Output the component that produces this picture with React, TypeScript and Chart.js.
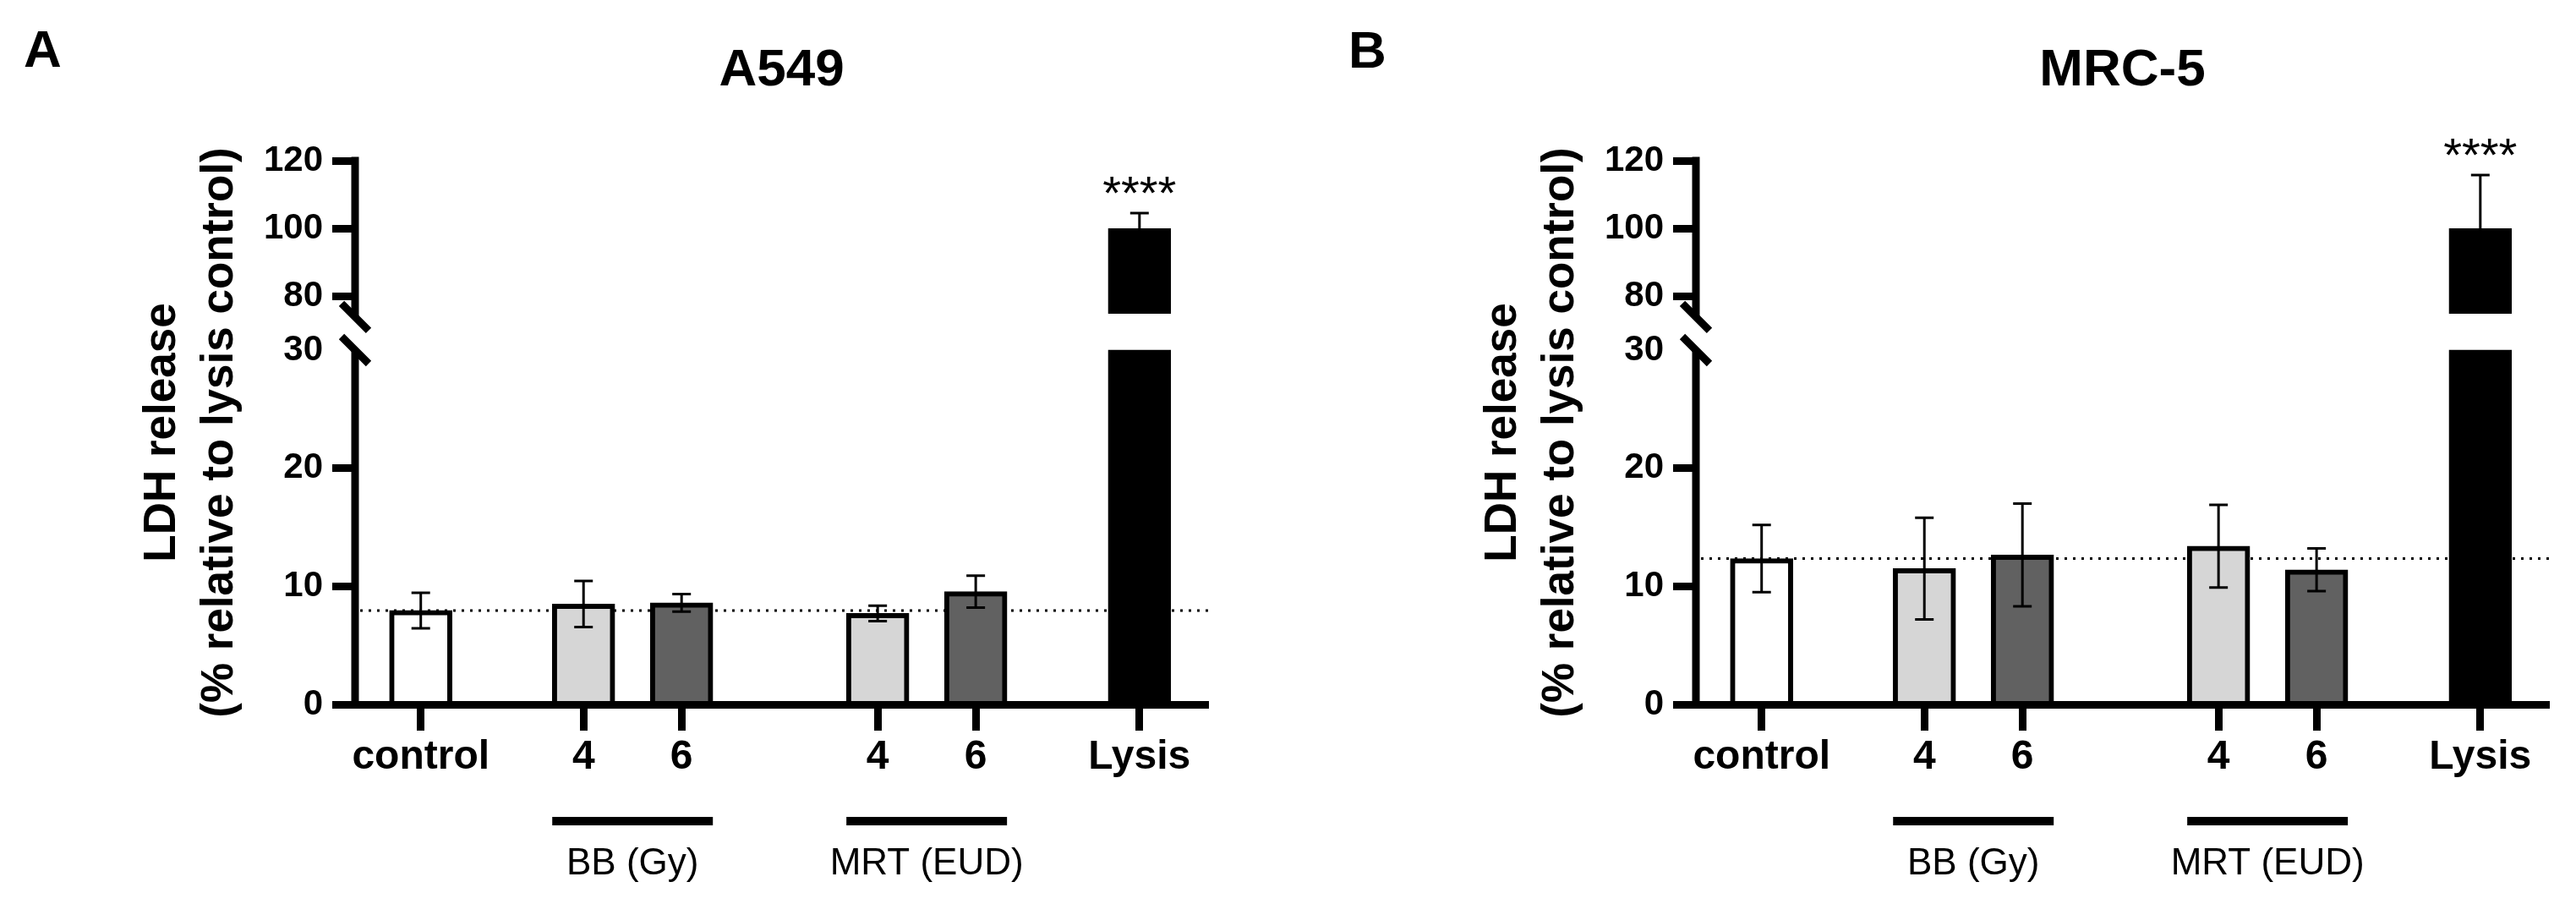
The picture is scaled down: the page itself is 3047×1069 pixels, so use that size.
import { useEffect, useRef } from 'react';
import { Chart, registerables } from 'chart.js';

Chart.register(...registerables);

// ---- data ----
const categories = ['control', '4', '6', '4', '6', 'Lysis'];
const a549Mean = [7.95, 8.5, 8.6, 7.7, 9.55, 100];
const a549Sd = [1.5, 1.95, 0.75, 0.65, 1.35, 4.6];
const mrc5Mean = [12.35, 11.5, 12.65, 13.4, 11.4, 100];
const mrc5Sd = [2.85, 4.3, 4.35, 3.5, 1.8, 15.8];
const lowerTicks = [0, 10, 20, 30];
const upperTicks = [80, 100, 120];
const stars = ['', '', '', '', '', '****'];
const groupLabels = ['BB (Gy)', 'MRT (EUD)'];
const groupMembers = [[1, 2], [3, 4]];

// ---- layout / style ----
const FONT = "'Liberation Sans', Arial, Helvetica, sans-serif";
const PANEL_W = 1460;
const PANEL_H = 1069;
const BAR_W = 74;
const slotPos = [0.67, 2.33, 3.33, 5.33, 6.33, 8.0];
const X_MAX = 8.7;
const LOWER_MAX = 31.5;
const UPPER_MIN = 69.5;
const BREAK_LOW = 30;
const BREAK_HIGH = 74;
const UPPER_BASE = 75;
const fills = ['#ffffff', '#d6d6d6', '#616161', '#d6d6d6', '#616161', '#000000'];

interface PanelProps {
  title: string;
  means: number[];
  sds: number[];
  left: number;
}

function Panel({ title, means, sds, left }: PanelProps) {
  const canvasRef = useRef<HTMLCanvasElement>(null);

  useEffect(() => {
    const el = canvasRef.current;
    if (!el) return;

    const lowerData = slotPos.map((x, i) => ({ x, y: Math.min(means[i], BREAK_LOW) }));
    const upperData = slotPos
      .map((x, i) => (means[i] > BREAK_LOW ? { x, y: [UPPER_BASE, means[i]] } : null))
      .filter(Boolean);

    const scaleFor = (chart: any, v: number) => (v > BREAK_LOW ? chart.scales.yTop : chart.scales.y);

    const baseline = {
      id: 'baseline',
      beforeDatasetsDraw(chart: any) {
        const { ctx, chartArea } = chart;
        const y = chart.scales.y.getPixelForValue(means[0]);
        ctx.save();
        ctx.strokeStyle = '#000';
        ctx.lineWidth = 3;
        ctx.setLineDash([3, 7]);
        ctx.beginPath();
        ctx.moveTo(chartArea.left + 6, y);
        ctx.lineTo(chartArea.right, y);
        ctx.stroke();
        ctx.restore();
      },
    };

    const errorBars = {
      id: 'errorBars',
      afterDatasetsDraw(chart: any) {
        const { ctx } = chart;
        ctx.save();
        ctx.strokeStyle = '#000';
        ctx.fillStyle = '#000';
        ctx.lineWidth = 3;
        means.forEach((m, i) => {
          const s = scaleFor(chart, m);
          const x = chart.scales.x.getPixelForValue(slotPos[i]);
          const hi = s.getPixelForValue(m + sds[i]);
          const lo = s.getPixelForValue(m - sds[i]);
          ctx.beginPath();
          ctx.moveTo(x, hi);
          ctx.lineTo(x, lo);
          ctx.moveTo(x - 11, hi);
          ctx.lineTo(x + 11, hi);
          ctx.moveTo(x - 11, lo);
          ctx.lineTo(x + 11, lo);
          ctx.stroke();
          if (stars[i]) {
            ctx.font = `56px ${FONT}`;
            ctx.textAlign = 'center';
            ctx.textBaseline = 'alphabetic';
            ctx.fillText(stars[i], x, hi - 5);
          }
        });
        ctx.restore();
      },
    };

    const axisBreak = {
      id: 'axisBreak',
      afterDraw(chart: any) {
        const { ctx, chartArea, scales } = chart;
        const x = chartArea.left;
        const lowTop = scales.y.getPixelForValue(BREAK_LOW);
        const highBottom = scales.yTop.getPixelForValue(BREAK_HIGH);
        ctx.save();
        ctx.strokeStyle = '#000';
        ctx.lineWidth = 9;
        ctx.lineCap = 'butt';
        ctx.beginPath();
        ctx.moveTo(x, scales.y.getPixelForValue(0) + 4.5);
        ctx.lineTo(x, lowTop);
        ctx.moveTo(x, scales.yTop.getPixelForValue(upperTicks[upperTicks.length - 1]) - 4.5);
        ctx.lineTo(x, highBottom);
        ctx.stroke();
        ctx.beginPath();
        [lowTop, highBottom].forEach((cy) => {
          ctx.moveTo(x - 16, cy - 16);
          ctx.lineTo(x + 16, cy + 16);
        });
        ctx.stroke();
        ctx.restore();
      },
    };

    const groups = {
      id: 'groups',
      afterDraw(chart: any) {
        const { ctx, chartArea, scales } = chart;
        ctx.save();
        ctx.fillStyle = '#000';
        ctx.font = `44px ${FONT}`;
        ctx.textAlign = 'center';
        ctx.textBaseline = 'middle';
        groupMembers.forEach(([a, b], g) => {
          const x1 = scales.x.getPixelForValue(slotPos[a]) - BAR_W / 2;
          const x2 = scales.x.getPixelForValue(slotPos[b]) + BAR_W / 2;
          ctx.fillRect(x1, chartArea.bottom + 133, x2 - x1, 10);
          ctx.fillText(groupLabels[g], (x1 + x2) / 2, chartArea.bottom + 189);
        });
        ctx.restore();
      },
    };

    const yTickFont = { family: FONT, size: 42, weight: 'bold' as const };

    const chart = new Chart(el, {
      type: 'bar',
      data: {
        datasets: [
          {
            data: lowerData as any,
            yAxisID: 'y',
            backgroundColor: fills,
            borderColor: '#000',
            borderWidth: 6,
            barThickness: BAR_W,
            grouped: false,
          },
          {
            data: upperData as any,
            yAxisID: 'yTop',
            backgroundColor: '#000',
            borderColor: '#000',
            borderWidth: 6,
            barThickness: BAR_W,
            grouped: false,
          },
        ],
      },
      options: {
        responsive: false,
        animation: false,
        layout: { padding: { left: 158, right: PANEL_W - 1429, top: 0, bottom: 142 } },
        plugins: {
          legend: { display: false },
          tooltip: { enabled: false },
          title: {
            display: true,
            fullSize: false,
            text: title,
            color: '#000',
            font: { family: FONT, size: 62, weight: 'bold' },
            padding: { top: 47, bottom: 68.6 },
          },
        },
        scales: {
          x: {
            type: 'linear',
            min: 0,
            max: X_MAX,
            offset: false,
            afterBuildTicks: (axis: any) => {
              axis.ticks = slotPos.map((v) => ({ value: v }));
            },
            afterFit: (axis: any) => {
              axis.height = 94;
            },
            ticks: {
              callback: (_v: any, i: number) => categories[i],
              color: '#000',
              font: { family: FONT, size: 48, weight: 'bold' },
              padding: 3,
              maxRotation: 0,
              autoSkip: false,
            },
            grid: {
              offset: false,
              drawOnChartArea: false,
              drawTicks: true,
              tickLength: 31,
              tickWidth: 9,
              tickColor: '#000',
            },
            border: { display: true, width: 9, color: '#000', z: 1 },
          },
          y: {
            type: 'linear',
            position: 'left',
            stack: 'left',
            stackWeight: 440,
            min: 0,
            max: LOWER_MAX,
            afterBuildTicks: (axis: any) => {
              axis.ticks = lowerTicks.map((v) => ({ value: v }));
            },
            afterFit: (axis: any) => {
              axis.width = 108;
            },
            ticks: { color: '#000', font: yTickFont, padding: 11 },
            grid: {
              drawOnChartArea: false,
              tickLength: 27,
              tickWidth: 9,
              tickColor: (ctx: any) => (ctx.tick && ctx.tick.value === BREAK_LOW ? 'rgba(0,0,0,0)' : '#000'),
            },
            border: { display: false },
          },
          yTop: {
            type: 'linear',
            position: 'left',
            stack: 'left',
            stackWeight: 203,
            min: UPPER_MIN,
            max: upperTicks[upperTicks.length - 1],
            afterBuildTicks: (axis: any) => {
              axis.ticks = upperTicks.map((v) => ({ value: v }));
            },
            afterFit: (axis: any) => {
              axis.width = 108;
            },
            ticks: { color: '#000', font: yTickFont, padding: 11 },
            grid: { drawOnChartArea: false, tickLength: 27, tickWidth: 9, tickColor: '#000' },
            border: { display: false },
          },
          yTitle: {
            type: 'linear',
            position: 'left',
            weight: 1,
            afterFit: (axis: any) => {
              axis.width = 154;
            },
            ticks: { display: false },
            grid: { display: false, drawTicks: false },
            border: { display: false },
            title: {
              display: true,
              text: ['LDH release', '(% relative to lysis control)'],
              color: '#000',
              font: { family: FONT, size: 53, weight: 'bold', lineHeight: 1.283 },
              padding: 0,
            },
          },
        },
      } as any,
      plugins: [baseline, errorBars, axisBreak, groups],
    });

    return () => {
      chart.destroy();
    };
  }, [title, means, sds]);

  return (
    <canvas
      ref={canvasRef}
      width={PANEL_W}
      height={PANEL_H}
      style={{ position: 'absolute', left, top: 0, width: PANEL_W, height: PANEL_H }}
    />
  );
}

const letterStyle = {
  position: 'absolute' as const,
  fontFamily: FONT,
  fontSize: 62,
  fontWeight: 'bold' as const,
  lineHeight: '62px',
  color: '#000',
};

export default function App() {
  useEffect(() => {
    document.body.style.margin = '0';
  }, []);

  return (
    <div style={{ position: 'relative', width: 3047, height: 1069, background: '#fff', overflow: 'hidden' }}>
      <Panel title="A549" means={a549Mean} sds={a549Sd} left={0} />
      <Panel title="MRC-5" means={mrc5Mean} sds={mrc5Sd} left={1586} />
      <div style={{ ...letterStyle, left: 28, top: 27 }}>A</div>
      <div style={{ ...letterStyle, left: 1595, top: 28 }}>B</div>
    </div>
  );
}
